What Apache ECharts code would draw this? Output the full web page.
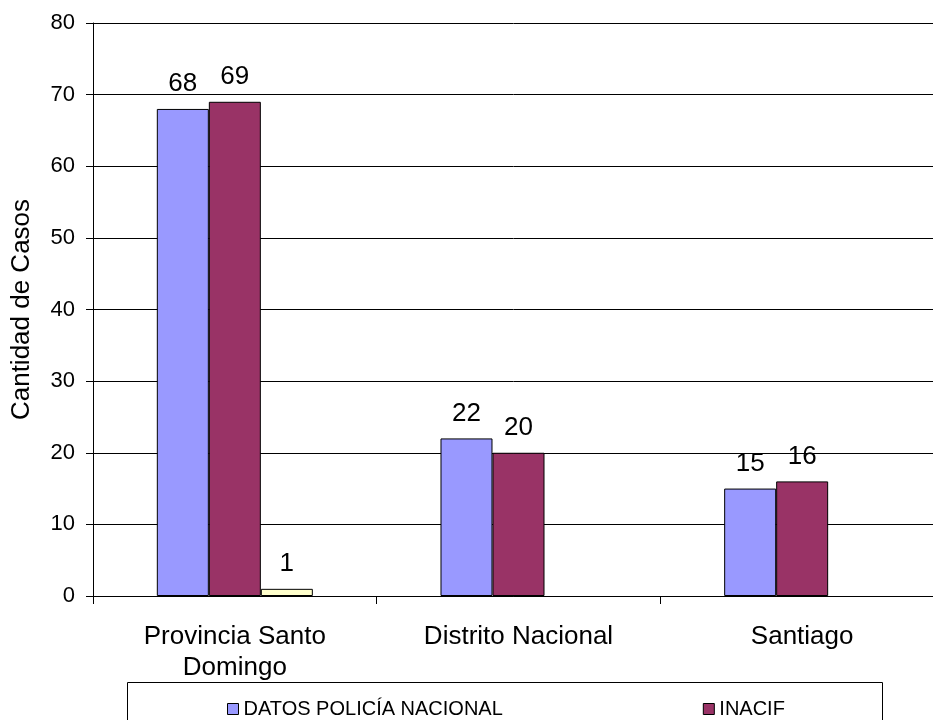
<!DOCTYPE html>
<html>
<head>
<meta charset="utf-8">
<script src="https://cdn.jsdelivr.net/npm/echarts@6/dist/echarts.min.js"></script>
<style>html,body{margin:0;padding:0;background:#fff}#c{width:933px;height:720px}</style>
</head>
<body>
<div id="c"></div>
<script>
var categories = ['Provincia Santo\nDomingo', 'Distrito Nacional', 'Santiago'];
var seriesNames = ['DATOS POLICÍA NACIONAL', 'INACIF', 'Otros'];
var policia = [68, 22, 15];
var inacif = [69, 20, 16];
var otros = [1, null, null];
var yTicks = [0, 10, 20, 30, 40, 50, 60, 70, 80];
var yTitle = 'Cantidad de Casos';

var font = 'Liberation Sans, Arial, sans-serif';
var chart = echarts.init(document.getElementById('c'), null, {renderer: 'canvas'});
function bar(name, data, color) {
  return {
    name: name, type: 'bar', data: data,
    barGap: '0%', barCategoryGap: '45%',
    itemStyle: {color: color, borderColor: '#000', borderWidth: 1},
    label: {show: true, position: 'top', distance: 12, color: '#000', fontSize: 26, fontFamily: font},
    animation: false
  };
}
chart.setOption({
  animation: false,
  grid: {left: 93, top: 23, bottom: 124, width: 851, containLabel: false, outerBoundsMode: 'none'},
  legend: {
    data: [seriesNames[0], seriesNames[1]],
    left: 222, top: 694, itemWidth: 11, itemHeight: 11, itemGap: 200,
    icon: 'rect',
    itemStyle: {borderColor: '#000', borderWidth: 1},
    textStyle: {fontSize: 20, fontFamily: font, color: '#000'}
  },
  graphic: [{
    type: 'rect', shape: {x: 127.5, y: 682.5, width: 755, height: 50},
    style: {fill: 'none', stroke: '#000', lineWidth: 1}, z: -1
  }],
  xAxis: {
    type: 'category', data: categories,
    axisLine: {lineStyle: {color: '#000'}},
    axisTick: {show: true, length: 8, lineStyle: {color: '#000'}},
    axisLabel: {color: '#000', fontSize: 26, fontFamily: font, margin: 25, lineHeight: 31, interval: 0}
  },
  yAxis: {
    type: 'value', min: yTicks[0], max: yTicks[yTicks.length - 1], interval: 10,
    name: yTitle, nameLocation: 'middle', nameGap: 58,
    nameTextStyle: {color: '#000', fontSize: 26, fontFamily: font},
    axisLine: {show: true, lineStyle: {color: '#000'}},
    axisTick: {show: true, length: 7, lineStyle: {color: '#000'}},
    axisLabel: {color: '#000', fontSize: 22, fontFamily: font, margin: 18},
    splitLine: {show: true, lineStyle: {color: '#000', width: 1}}
  },
  series: [
    bar(seriesNames[0], policia, '#9999FF'),
    bar(seriesNames[1], inacif, '#993366'),
    bar(seriesNames[2], otros, '#FFFFCC')
  ]
});
</script>
</body>
</html>
